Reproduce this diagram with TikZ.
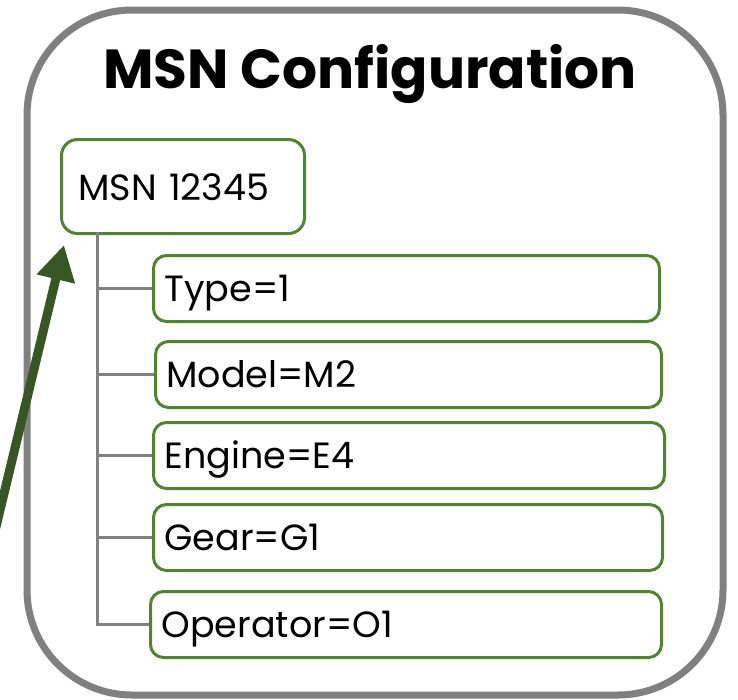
\documentclass[tikz,border=0pt]{standalone}
\usepackage{fontspec}
\setmainfont{Poppins}
\usetikzlibrary{arrows.meta}
\definecolor{boxgreen}{RGB}{84,130,53}
\definecolor{arrowgreen}{RGB}{55,86,35}
\definecolor{framegray}{RGB}{128,128,128}
\begin{document}
\begin{tikzpicture}[x=1pt,y=-1pt,
  frame/.style={draw=framegray, line width=7pt, rounded corners=105pt},
  leaf/.style={draw=boxgreen, line width=3pt, rounded corners=13pt, fill=white,
    inner xsep=11pt, inner ysep=0pt, minimum height=66pt, anchor=north west,
    align=left, text height=30pt, text depth=4pt,
    font=\fontsize{36.5}{42}\selectfont},
  root/.style={draw=boxgreen, line width=3pt, rounded corners=16pt, fill=white,
    inner xsep=17pt, inner ysep=0pt, minimum height=94pt, text width=209pt,
    align=left, anchor=north west, text height=30pt, text depth=2pt,
    font=\fontsize{36.5}{42}\selectfont},
  tree/.style={draw=framegray, line width=3pt},
  bigarrow/.style={draw=arrowgreen, line width=9pt,
    -{Triangle[length=35pt,width=37pt]}},
  title/.style={font=\bfseries\fontsize{55}{64}\selectfont, anchor=base}
]
\clip (0,0) rectangle (738,699);
\fill[white] (0,0) rectangle (738,699);
\draw[frame] (27,10) rectangle (723,695);
\node[title] (ttl) at (370,88) {MSN Configuration};
\node[root] (msn) at (60,138) {MSN 12345};
\node[leaf, text width=484pt] (type)  at (152,254) {Type=1};
\node[leaf, text width=484pt] (model) at (154,340) {Model=M2};
\node[leaf, text width=489pt] (eng)   at (152,421) {Engine=E4};
\node[leaf, text width=487pt] (gear)  at (152,503) {Gear=G1};
\node[leaf, text width=489pt] (op)    at (149,590) {Operator=O1};
\coordinate (tr) at (97,232);
\draw[tree] (tr) |- (op.west);
\draw[tree] (tr |- type.west) -- (type.west);
\draw[tree] (tr |- model.west) -- (model.west);
\draw[tree] (tr |- eng.west) -- (eng.west);
\draw[tree] (tr |- gear.west) -- (gear.west);
\coordinate (a0) at (-6,535);
\coordinate (a1) at (64,245);
\draw[bigarrow] (a0) -- (a1);
\end{tikzpicture}
\end{document}
